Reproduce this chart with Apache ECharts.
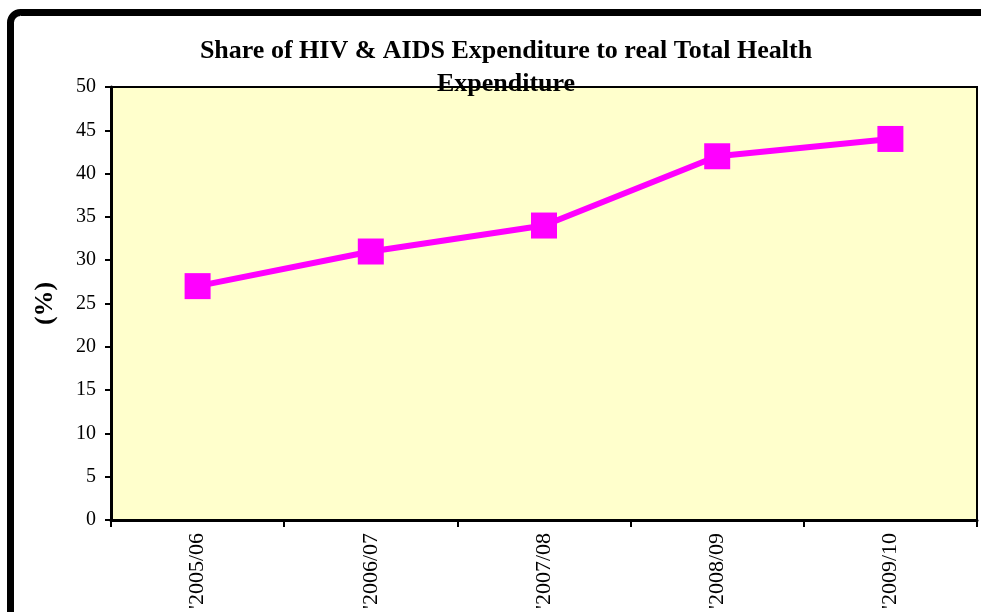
<!DOCTYPE html>
<html>
<head>
<meta charset="utf-8">
<script src="https://cdn.jsdelivr.net/npm/echarts@6/dist/echarts.min.js"></script>
<style>
  html, body { margin: 0; padding: 0; background: #fff; }
  #HivShareChart { width: 981px; height: 612px; }
</style>
</head>
<body>
<div id="HivShareChart"></div>
<script>
// values
const years = ["'2005/06", "'2006/07", "'2007/08", "'2008/09", "'2009/10"];
const hivShare = [27, 31, 34, 42, 44];

let chartDom = document.getElementById('HivShareChart');
let myChart = echarts.init(chartDom);
let option;

const serif = 'Liberation Serif';

option = {
  backgroundColor: '#ffffff',
  animation: false,
  title: {
    text: 'Share of HIV & AIDS Expenditure to real Total Health\nExpenditure',
    left: 501,
    top: 30,
    textAlign: 'center',
    textStyle: {
      fontFamily: serif,
      fontSize: 26,
      fontWeight: 'bold',
      color: '#000',
      lineHeight: 33,
    },
  },
  graphic: [
    {
      type: 'rect',
      shape: { x: 10.5, y: 12.5, width: 1000, height: 700, r: 10 },
      style: { fill: 'none', stroke: '#000', lineWidth: 7 },
      z: 100,
    },
  ],
  grid: {
    left: 111,
    right: 4,
    top: 87,
    bottom: 91,
    show: true,
    backgroundColor: '#ffffcc',
    borderColor: '#000',
    borderWidth: 2,
  },
  xAxis: {
    type: 'category',
    data: years,
    boundaryGap: true,
    axisLine: { lineStyle: { color: '#000', width: 3 } },
    axisTick: { show: true, length: 7, lineStyle: { color: '#000', width: 2 } },
    axisLabel: {
      rotate: 90,
      margin: 13,
      color: '#000',
      fontFamily: serif,
      fontSize: 22,
    },
  },
  yAxis: {
    type: 'value',
    min: 0,
    max: 50,
    interval: 5,
    name: '(%)',
    nameLocation: 'middle',
    nameRotate: 90,
    nameGap: 53,
    nameTextStyle: {
      fontFamily: serif,
      fontSize: 26,
      fontWeight: 'bold',
      color: '#000',
    },
    splitLine: { show: false },
    axisLine: { show: true, lineStyle: { color: '#000', width: 3 } },
    axisTick: { show: true, length: 6, lineStyle: { color: '#000', width: 2 } },
    axisLabel: {
      margin: 15,
      color: '#000',
      fontFamily: serif,
      fontSize: 20,
    },
  },
  series: [
    {
      name: 'Share',
      type: 'line',
      data: hivShare,
      symbol: 'rect',
      symbolSize: 26,
      itemStyle: { color: '#ff00ff', borderRadius: 2 },
      lineStyle: { color: '#ff00ff', width: 6 },
    },
  ],
};

option && myChart.setOption(option);
</script>
</body>
</html>
